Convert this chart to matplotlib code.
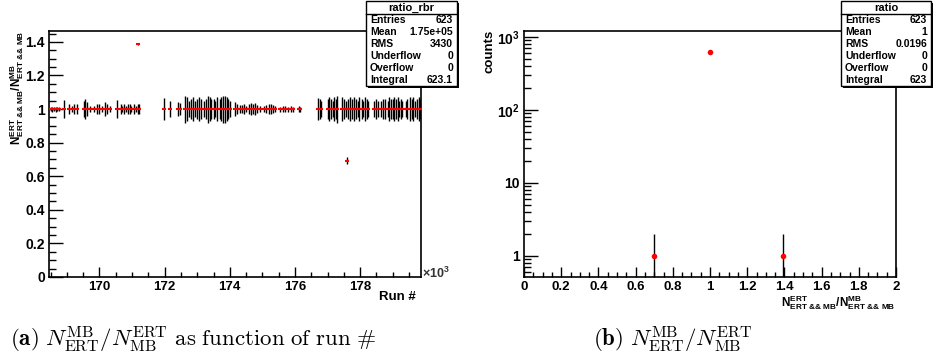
import matplotlib
matplotlib.use("Agg")
import matplotlib.pyplot as plt
import numpy as np
from matplotlib.ticker import MultipleLocator, FixedLocator, NullFormatter, FuncFormatter

plt.rcParams['font.family'] = ['Liberation Sans', 'DejaVu Sans']
plt.rcParams['font.weight'] = 'bold'
plt.rcParams['mathtext.fontset'] = 'custom'
plt.rcParams['mathtext.rm'] = 'Liberation Sans:bold'
plt.rcParams['mathtext.it'] = 'Liberation Sans:bold'
plt.rcParams['mathtext.bf'] = 'Liberation Sans:bold'

# ---------------- data: panel (a) ratio per run (run number / 1000) -------------
runs = [168.50, 168.55, 168.60, 168.65, 168.70, 168.75, 168.90,
        169.05, 169.15, 169.22, 169.30, 169.51, 169.56, 169.61,
        169.71, 169.84, 169.92, 170.00, 170.07, 170.17, 170.22, 170.33,
        170.55, 170.65, 170.70, 170.76, 170.82, 170.87, 170.93, 170.98,
        171.05, 171.12, 171.17, 171.22,
        171.98, 172.17, 172.42, 172.46,
        172.63, 172.68, 172.75, 172.82, 172.88, 172.93, 172.99, 173.06,
        173.12, 173.20, 173.26, 173.33, 173.38, 173.43, 173.50, 173.55,
        173.62, 173.70, 173.74, 173.80, 173.85, 173.90, 173.95, 174.00,
        174.16, 174.22, 174.30, 174.38, 174.44, 174.50, 174.58, 174.65,
        174.72, 174.78, 174.85, 174.92, 175.05, 175.12, 175.20, 175.28,
        175.33, 175.40, 175.55, 175.62, 175.70, 175.78, 175.88, 175.95,
        176.12, 176.16,
        176.72, 176.76, 176.80, 177.00, 177.05, 177.10, 177.16, 177.20,
        177.25, 177.30, 177.45, 177.50, 177.56, 177.63, 177.70, 177.76,
        177.82, 177.88, 177.93, 177.98, 178.05, 178.10, 178.16, 178.20,
        178.25, 178.42, 178.48, 178.55, 178.65, 178.70, 178.78, 178.85,
        178.90, 178.95, 179.00, 179.05, 179.10, 179.15, 179.20, 179.25,
        179.30, 179.40, 179.45, 179.52, 179.58, 179.63, 179.68, 179.75,
        179.80, 179.85]
errs = [0.010, 0.015, 0.010, 0.015, 0.010, 0.012, 0.055,
        0.030, 0.020, 0.030, 0.030, 0.050, 0.060, 0.040,
        0.020, 0.020, 0.030, 0.030, 0.020, 0.040, 0.030, 0.020,
        0.055, 0.030, 0.020, 0.030, 0.020, 0.030, 0.030, 0.020,
        0.030, 0.020, 0.030, 0.030,
        0.065, 0.050, 0.040, 0.035,
        0.080, 0.070, 0.050, 0.060, 0.070, 0.050, 0.060, 0.070,
        0.060, 0.050, 0.060, 0.080, 0.070, 0.060, 0.060, 0.050,
        0.070, 0.060, 0.070, 0.080, 0.080, 0.070, 0.060, 0.050,
        0.040, 0.030, 0.025, 0.025, 0.030, 0.020, 0.030, 0.035,
        0.030, 0.035, 0.025, 0.020, 0.020, 0.025, 0.030, 0.030,
        0.025, 0.020, 0.015, 0.020, 0.020, 0.015, 0.020, 0.015,
        0.020, 0.015,
        0.065, 0.060, 0.050, 0.060, 0.070, 0.060, 0.050, 0.070,
        0.060, 0.080, 0.070, 0.060, 0.050, 0.060, 0.070, 0.060,
        0.070, 0.060, 0.050, 0.070, 0.060, 0.050, 0.070, 0.060,
        0.050, 0.050, 0.060, 0.050, 0.050, 0.060, 0.060, 0.050,
        0.070, 0.060, 0.060, 0.070, 0.060, 0.070, 0.050, 0.060,
        0.050, 0.050, 0.060, 0.070, 0.060, 0.070, 0.050, 0.060,
        0.070, 0.060]
ratios = [1.0] * len(runs)
outlier_runs = [171.19, 177.59]
outlier_vals = [1.388, 0.693]
outlier_errs = [0.006, 0.020]

# ---------------- data: panel (b) histogram of ratio -----------------------------
bin_centers = [0.70, 1.00, 1.39]
counts = [1, 621, 1]

stats_a = [("Entries", "623"), ("Mean", "1.75e+05"), ("RMS", "3430"),
           ("Underflow", "0"), ("Overflow", "0"), ("Integral", "623.1")]
stats_b = [("Entries", "623"), ("Mean", "1"), ("RMS", "0.0196"),
           ("Underflow", "0"), ("Overflow", "0"), ("Integral", "623")]

W, H = 934, 358
fig = plt.figure(figsize=(W / 100, H / 100), dpi=100)

def ax_rect(x0, y0, x1, y1):
    return [x0 / W, 1 - y1 / H, (x1 - x0) / W, (y1 - y0) / H]

axA = fig.add_axes(ax_rect(49, 31, 421, 277))
axB = fig.add_axes(ax_rect(524, 31, 896, 277))

# ---- panel A
axA.errorbar(runs, ratios, yerr=errs, fmt='none', ecolor='black', elinewidth=1.0)
axA.errorbar(outlier_runs, outlier_vals, yerr=outlier_errs, fmt='none', ecolor='black', elinewidth=1.0)
axA.plot(runs, ratios, '_', color='red', ms=3.2, mew=1.5, zorder=5)
axA.plot(outlier_runs, outlier_vals, '_', color='red', ms=3.2, mew=1.5, zorder=5)
axA.set_xlim(168.45, 179.87)
axA.set_ylim(0, 1.465)
axA.yaxis.set_major_locator(MultipleLocator(0.2))
axA.yaxis.set_minor_locator(MultipleLocator(0.05))
axA.xaxis.set_major_locator(MultipleLocator(2))
axA.xaxis.set_minor_locator(MultipleLocator(0.5))
axA.yaxis.set_major_formatter(FuncFormatter(lambda v, p: ('%g' % round(v, 2))))
axA.xaxis.set_major_formatter(FuncFormatter(lambda v, p: '%d' % round(v)))
axA.tick_params(axis='y', which='major', direction='in', length=10, width=1, labelsize=10, pad=3)
axA.tick_params(axis='y', which='minor', direction='in', length=5, width=1)
axA.tick_params(axis='x', which='major', direction='in', length=7, width=1, labelsize=9.5, pad=3)
axA.tick_params(axis='x', which='minor', direction='in', length=3.5, width=1)
fig.text(422 / W, 1 - 273 / H, r'$\times$10$^{3}$', fontsize=9, ha='left', va='center', color='#333333')
fig.text(416 / W, 1 - 297 / H, 'Run #', fontsize=9.5, ha='right', va='center')
fig.text(17 / W, 1 - 31 / H,
         r'N$^{\rm ERT}_{\rm ERT\ &&\ MB}$/N$^{\rm MB}_{\rm ERT\ &&\ MB}$',
         rotation=90, fontsize=8.5, ha='center', va='top')

# ---- panel B
axB.set_yscale('log')
axB.errorbar(bin_centers, counts, yerr=[[min(c, 0.99) for c in counts], [np.sqrt(c) for c in counts]],
             fmt='none', ecolor='black', elinewidth=1.0)
axB.plot(bin_centers, counts, 'o', color='red', ms=4, mew=0)
axB.set_xlim(0, 2)
axB.set_ylim(0.51, 1208)
axB.xaxis.set_major_locator(MultipleLocator(0.2))
axB.xaxis.set_minor_locator(MultipleLocator(0.05))
axB.xaxis.set_major_formatter(FuncFormatter(lambda v, p: '%g' % round(v, 2)))
axB.yaxis.set_major_locator(FixedLocator([1, 10, 100, 1000]))
axB.yaxis.set_minor_locator(FixedLocator([m * 10 ** e for e in range(-1, 4) for m in range(2, 10)]))
axB.yaxis.set_minor_formatter(NullFormatter())
axB.yaxis.set_major_formatter(FuncFormatter(
    lambda v, p: {1: '1', 10: '10', 100: r'10$^{2}$', 1000: r'10$^{3}$'}.get(int(round(v)), '')))
axB.tick_params(axis='y', which='major', direction='in', length=10, width=1, labelsize=10, pad=3)
axB.tick_params(axis='y', which='minor', direction='in', length=5, width=1)
axB.tick_params(axis='x', which='major', direction='in', length=7, width=1, labelsize=9.5, pad=3)
axB.tick_params(axis='x', which='minor', direction='in', length=3.5, width=1)
fig.text(895 / W, 1 - 306 / H,
         r'N$^{\rm ERT}_{\rm ERT\ &&\ MB}$/N$^{\rm MB}_{\rm ERT\ &&\ MB}$',
         fontsize=8.5, ha='right', va='baseline')
fig.text(490 / W, 1 - 30 / H, 'counts', rotation=90, fontsize=9.5, ha='center', va='top')

for ax in (axA, axB):
    for s in ax.spines.values():
        s.set_linewidth(1.2)
    ax.tick_params(which='both', top=False, right=False)

# ---- stats boxes
def stats_box(x0, x1, y0, y1, title, rows):
    sh = plt.Rectangle(((x0 + 2) / W, 1 - (y1 + 2) / H), (x1 - x0) / W, (y1 - y0) / H,
                       transform=fig.transFigure, facecolor='black', edgecolor='none', zorder=5)
    fig.patches.append(sh)
    r = plt.Rectangle((x0 / W, 1 - y1 / H), (x1 - x0) / W, (y1 - y0) / H,
                      transform=fig.transFigure, facecolor='white', edgecolor='black', lw=1, zorder=6)
    fig.patches.append(r)
    th = 13
    fig.add_artist(plt.Line2D([x0 / W, x1 / W], [1 - (y0 + th) / H] * 2, color='black', lw=1, zorder=7))
    fig.text((x0 + x1) / 2 / W, 1 - (y0 + th / 2 + 0.5) / H, title, fontsize=8, ha='center', va='center', zorder=8)
    rh = (y1 - y0 - th) / len(rows)
    for i, (k, v) in enumerate(rows):
        yc = y0 + th + rh * (i + 0.5)
        fig.text((x0 + 4) / W, 1 - yc / H, k, fontsize=7.5, ha='left', va='center', zorder=8)
        fig.text((x1 - 4) / W, 1 - yc / H, v, fontsize=7.5, ha='right', va='center', zorder=8)

stats_box(366, 457, 1, 86, 'ratio_rbr', stats_a)
stats_box(841, 931, 1, 86, 'ratio', stats_b)

# ---- captions (Computer Modern)
fig.text(10 / W, 1 - 340 / H,
         r'$\mathbf{(a)}\ N^{\mathrm{MB}}_{\mathrm{ERT}}/N^{\mathrm{ERT}}_{\mathrm{MB}}\ \mathrm{as\ function\ of\ run\ \#}$',
         math_fontfamily='cm', fontsize=16.5, ha='left', va='center')
fig.text(593 / W, 1 - 340 / H,
         r'$\mathbf{(b)}\ N^{\mathrm{MB}}_{\mathrm{ERT}}/N^{\mathrm{ERT}}_{\mathrm{MB}}$',
         math_fontfamily='cm', fontsize=16.5, ha='left', va='center')

fig.savefig('out.png', dpi=100)
